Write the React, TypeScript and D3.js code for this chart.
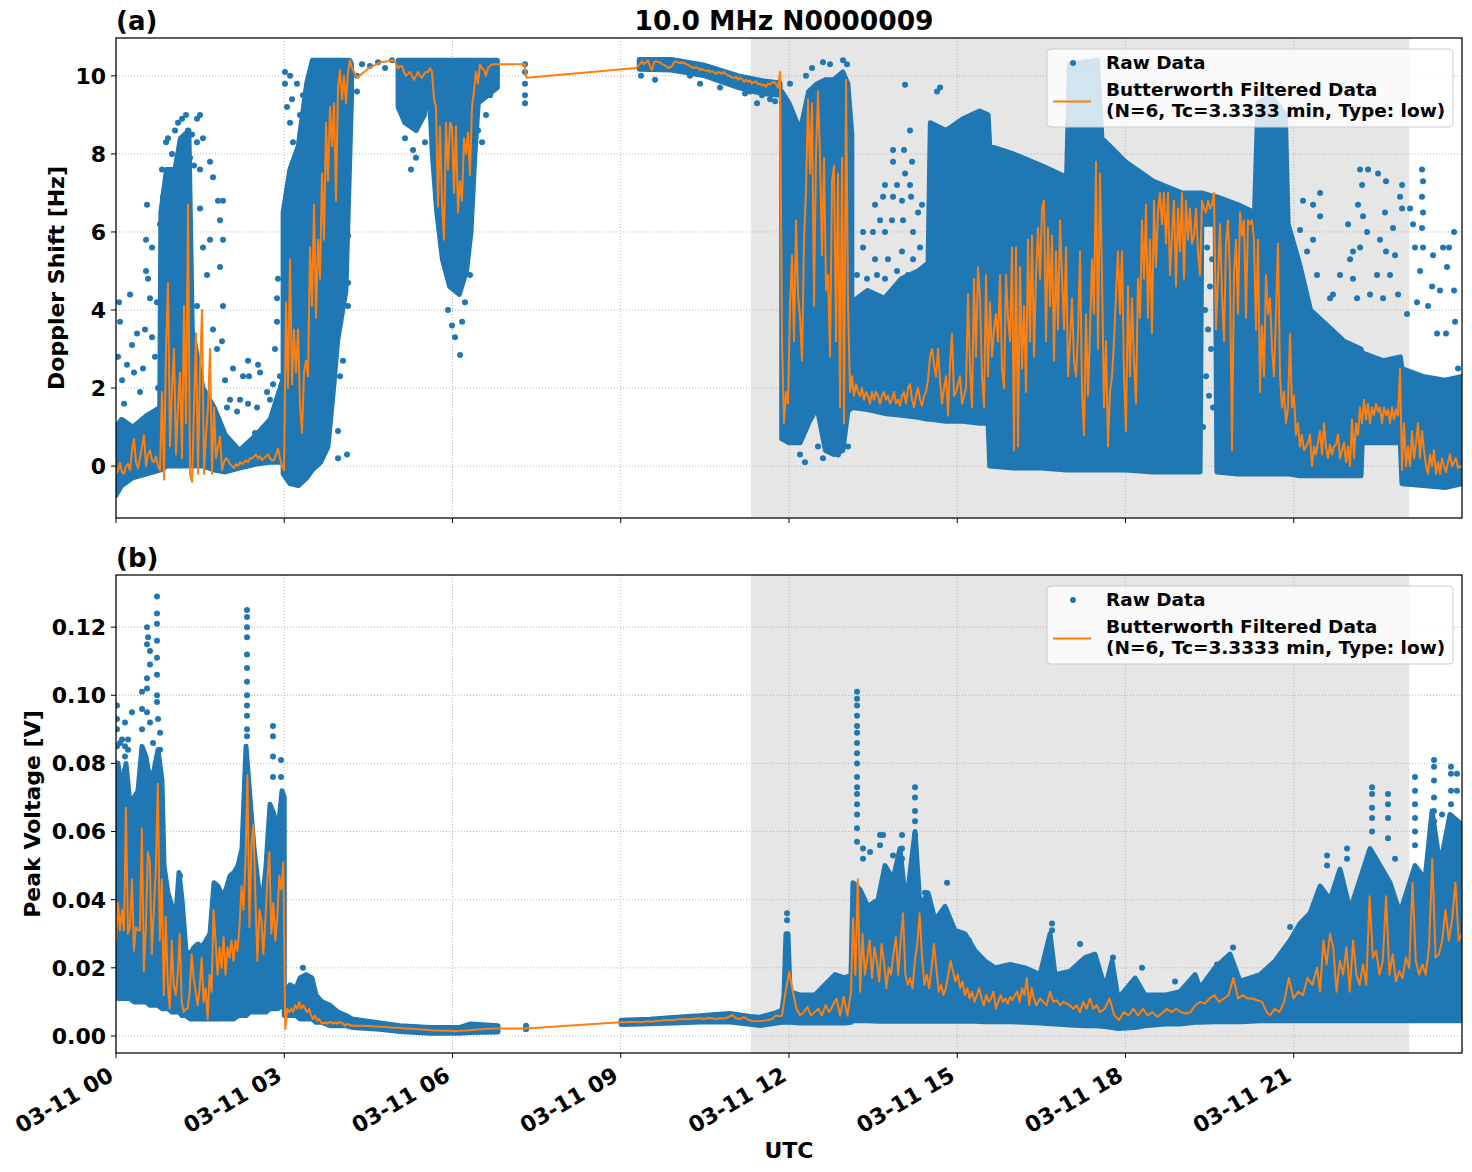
import { useEffect, useRef } from "react"
import * as d3 from "d3"

type BandPoint = [number, number, number]
type Column = [number, number[]]
interface Segment {
  from: number
  to: number
  v: number[]
}

const title = "10.0 MHz N0000009"
const xTickHours = [0, 3, 6, 9, 12, 15, 18, 21]
const xTickLabels = ["03-11 00", "03-11 03", "03-11 06", "03-11 09", "03-11 12", "03-11 15", "03-11 18", "03-11 21"]
const shadedHours: [number, number] = [11.32, 23.06]
const legendLabels = ["Raw Data", "Butterworth Filtered Data", "(N=6, Tc=3.3333 min, Type: low)"]

const dopplerTicks = [0, 2, 4, 6, 8, 10]
const voltageTicks = [0, 0.02, 0.04, 0.06, 0.08, 0.1, 0.12]

// ---- Doppler shift raw data: dense envelopes [hour, low, high] ----
const dopplerBandA: BandPoint[] = [
  [0.0, -0.75, 1.0], [0.1, -0.5, 1.2], [0.3, -0.3, 1.0], [0.55, -0.2, 1.3], [0.78, -0.1, 1.5],
  [0.8, -0.1, 6.5], [0.9, 0.0, 7.6], [1.05, 0.0, 7.6], [1.15, 0.0, 8.4], [1.3, 0.0, 8.6],
  [1.36, 0.0, 3.5], [1.55, 0.0, 2.0], [1.75, -0.1, 1.5], [1.95, -0.15, 0.8], [2.2, -0.05, 0.4],
  [2.5, 0.05, 0.8], [2.75, 0.1, 1.2], [2.97, 0.1, 2.2],
]
const dopplerBandB: BandPoint[] = [
  [2.98, -0.2, 6.5], [3.1, -0.45, 7.6], [3.25, -0.5, 8.2], [3.4, -0.3, 9.8], [3.5, -0.1, 10.4],
  [3.65, 0.1, 10.4], [3.78, 0.5, 10.4], [3.88, 2.0, 10.4], [3.95, 3.2, 10.4], [4.1, 4.5, 10.4],
  [4.17, 8.0, 10.4], [4.2, 9.5, 10.3],
]
const dopplerBandC: BandPoint[] = [
  [5.03, 9.2, 10.4], [5.15, 8.8, 10.4], [5.35, 8.6, 10.4], [5.5, 9.0, 10.4], [5.58, 9.8, 10.4],
  [5.64, 8.0, 10.4], [5.72, 6.5, 10.4], [5.82, 5.3, 10.4], [5.95, 4.6, 10.4], [6.12, 4.4, 10.4],
  [6.25, 5.0, 10.4], [6.33, 6.0, 10.4], [6.4, 8.0, 10.4], [6.46, 9.3, 10.4], [6.8, 9.7, 10.4],
]
const dopplerBandD: BandPoint[] = [
  [9.33, 10.17, 10.42], [9.9, 10.15, 10.42], [10.5, 10.0, 10.27], [11.1, 9.7, 10.0], [11.5, 9.55, 9.88], [11.84, 9.5, 9.82],
]
const dopplerBandE: BandPoint[] = [
  [11.87, 0.7, 9.6], [12.0, 0.6, 9.3], [12.2, 0.6, 8.6], [12.35, 1.1, 9.6], [12.5, 1.5, 9.8],
  [12.65, 0.4, 9.9], [12.8, 0.3, 9.9], [12.96, 0.4, 10.1], [13.05, 1.4, 9.8], [13.12, 1.5, 8.5],
]
const dopplerBandF: BandPoint[] = [
  [13.12, 1.5, 4.2], [13.4, 1.45, 4.5], [13.7, 1.35, 4.3], [14.0, 1.3, 4.8], [14.3, 1.25, 5.0],
  [14.48, 1.2, 5.2], [14.52, 1.2, 8.8], [14.8, 1.15, 8.6], [15.1, 1.15, 8.9], [15.4, 1.1, 9.1],
  [15.55, 1.1, 9.0], [15.58, 0.0, 8.2], [16.0, -0.05, 8.0], [16.5, -0.05, 7.7], [16.95, -0.1, 7.4],
  [17.0, -0.1, 10.3], [17.5, -0.1, 10.4], [17.58, -0.1, 8.4], [18.0, -0.1, 7.8], [18.5, -0.15, 7.3],
  [19.0, -0.15, 7.0], [19.33, -0.15, 7.0], [19.36, 6.2, 7.0], [19.6, 6.2, 6.9], [19.63, -0.15, 6.9],
  [20.0, -0.2, 6.7], [20.3, -0.2, 6.5], [20.36, -0.2, 9.3], [20.6, -0.2, 9.5], [20.85, -0.2, 9.0],
  [20.9, -0.2, 6.2], [21.1, -0.25, 5.2], [21.3, -0.25, 4.0], [21.6, -0.25, 3.6], [21.9, -0.25, 3.2],
  [22.2, -0.25, 3.0], [22.22, 0.6, 2.9], [22.6, 0.6, 2.7], [22.9, 0.6, 2.8], [22.93, -0.45, 2.5],
  [23.3, -0.5, 2.3], [23.7, -0.55, 2.2], [24.0, -0.45, 2.3],
]

// ---- Doppler shift raw data: scattered samples [hour, values] ----
const dopplerScatter: Column[] = [
  [0.036, [2.8]], [0.053, [4.2]], [0.071, [3.7]], [0.107, [2.2]], [0.143, [1.6]], [0.196, [2.6]],
  [0.25, [4.4]], [0.285, [3.1]], [0.321, [2.4]], [0.374, [3.4]], [0.428, [1.9]], [0.481, [2.5]],
  [0.517, [3.5]], [0.535, [5.8, 5.0]], [0.553, [6.7]], [0.571, [4.8]], [0.606, [4.3]], [0.642, [3.3, 5.6]],
  [0.695, [2.8]], [0.731, [4.2]], [0.749, [2.0]], [0.785, [6.2]], [0.82, [7.6]], [0.838, [6.9]],
  [0.892, [8.3]], [0.927, [8.4]], [0.999, [8.0]], [1.052, [8.6]], [1.106, [8.8]], [1.177, [8.9]],
  [1.248, [9.0]], [1.284, [8.6]], [1.319, [7.9]], [1.355, [8.5]], [1.391, [7.7]], [1.444, [8.9, 8.3, 4.1]],
  [1.498, [9.0, 7.6, 6.6]], [1.551, [8.4, 5.6]], [1.623, [4.9]], [1.676, [7.8, 5.8]], [1.73, [7.4, 3.5]],
  [1.801, [3.0]], [1.819, [6.8]], [1.854, [6.3, 5.1]], [1.89, [3.2]], [1.908, [6.8, 5.8, 4.1]],
  [1.944, [2.2]], [1.979, [1.5]], [2.033, [1.7]], [2.086, [2.5]], [2.158, [1.4]], [2.211, [1.7]],
  [2.265, [2.3]], [2.354, [2.7, 1.6]], [2.372, [2.3]], [2.479, [0.85]], [2.514, [1.5]], [2.532, [2.6]],
  [2.568, [2.4]], [2.621, [0.9]], [2.693, [1.9]], [2.71, [1.1]], [2.746, [1.7]], [2.8, [2.1]],
  [2.835, [3.0]], [2.871, [4.3, 3.7]], [2.889, [4.8]], [2.924, [2.3]], [2.96, [1.5]],
  [3.013, [10.1, 9.8]], [3.049, [9.2]], [3.103, [8.8, 10.0]], [3.138, [9.4]], [3.156, [8.3]],
  [3.227, [9.8]], [3.245, [7.6]], [3.281, [9.0]], [3.334, [9.5]], [3.406, [9.1]], [3.424, [8.4]],
  [3.958, [0.9, 0.2]], [3.994, [2.3]], [4.048, [2.7]], [4.119, [0.3, 6.7]], [4.137, [4.7, 4.1, 5.9]],
  [4.297, [9.6, 10.0]], [4.386, [10.3]], [4.529, [10.25]], [4.672, [10.35]], [4.797, [10.2]], [4.921, [10.4]],
  [5.153, [8.4]], [5.26, [7.6]], [5.296, [8.1]], [5.349, [7.9]], [5.51, [8.3]],
  [5.92, [4.0]], [5.991, [3.6]], [6.045, [3.3]], [6.134, [2.85]], [6.17, [3.7]], [6.223, [4.2]], [6.312, [4.9]],
  [6.455, [8.6]], [6.526, [8.3]], [6.597, [9.0]], [6.669, [9.5]],
  [7.293, [10.3, 10.1, 9.8, 9.5, 9.3]],
  [9.361, [10.0]], [9.611, [9.9]], [10.235, [10.0]], [10.413, [9.8]], [10.77, [9.7]], [10.948, [9.8]],
  [11.216, [9.55]], [11.305, [9.6]], [11.43, [9.3]], [11.519, [9.5]], [11.662, [9.4]], [11.751, [9.35]],
  [12.018, [9.8]], [12.196, [0.3]], [12.285, [0.1]], [12.303, [10.0]], [12.41, [10.2]], [12.517, [0.5]],
  [12.606, [0.2, 10.35]], [12.731, [10.3]], [12.874, [0.3]], [12.963, [10.4]], [13.035, [10.3]], [13.052, [0.5]],
  [13.213, [4.9]], [13.32, [6.0, 5.6]], [13.391, [4.8]], [13.498, [6.0]], [13.534, [6.7, 5.3]], [13.569, [4.9]],
  [13.623, [6.3]], [13.677, [6.9]], [13.712, [7.2, 6.0, 4.8]], [13.765, [5.3]], [13.837, [6.3]],
  [13.855, [8.1, 7.8, 6.9]], [13.926, [7.2, 5.0]], [14.015, [6.8, 5.5]], [14.033, [6.3]], [14.051, [8.1]],
  [14.069, [9.77, 7.5]], [14.122, [4.9]], [14.158, [8.6, 7.2]], [14.176, [6.9]], [14.194, [7.8]],
  [14.212, [6.0, 5.3]], [14.301, [6.5, 4.85]], [14.336, [5.6]], [14.372, [6.7]], [14.639, [9.6]], [14.693, [9.7]],
  [19.382, [1.0]], [19.418, [4.0]], [19.436, [2.3]], [19.454, [5.6]], [19.472, [3.5]], [19.489, [1.8]],
  [19.507, [4.6]], [19.525, [3.0]], [19.543, [5.3]], [19.561, [1.5]],
  [20.809, [7.0]], [20.88, [6.4]], [21.112, [6.05]], [21.165, [6.8]], [21.237, [5.5]], [21.344, [6.7, 5.8]],
  [21.415, [4.9]], [21.469, [7.0, 6.4]], [21.647, [4.3]], [21.7, [4.4]], [21.825, [4.9]], [21.968, [6.2]],
  [22.004, [5.3]], [22.057, [4.8, 5.5]], [22.128, [4.3]], [22.146, [6.7]], [22.182, [7.6, 5.6]], [22.218, [7.2]],
  [22.235, [6.4]], [22.307, [6.0]], [22.325, [7.6]], [22.36, [4.4]], [22.485, [4.9]], [22.503, [7.5]],
  [22.538, [5.8]], [22.592, [4.3]], [22.627, [6.5]], [22.645, [7.3, 5.5]], [22.717, [4.9]], [22.77, [6.1]],
  [22.806, [5.4]], [22.86, [4.4]], [22.895, [6.9]], [22.931, [7.2, 6.6]], [23.02, [3.9]], [23.074, [6.6]],
  [23.127, [6.2]], [23.162, [5.6]], [23.198, [4.2]], [23.252, [5.0]], [23.287, [7.6, 6.9, 6.1]],
  [23.305, [7.3, 6.5, 5.6]], [23.394, [4.1]], [23.466, [4.6]], [23.484, [5.4]], [23.555, [3.4]], [23.608, [4.5]],
  [23.662, [5.6]], [23.715, [3.4]], [23.733, [5.1]], [23.769, [5.6]], [23.858, [6.0, 4.5]], [23.876, [3.7]],
  [23.929, [2.5]],
]

// ---- Doppler shift Butterworth filtered series (uniformly sampled segments) ----
const dopplerFiltered: Segment[] = [
  { from: 0, to: 2.96, v: [
    -0.2, -0.1, 0.08, -0.15, -0.2, 0.0, 0.05, -0.1, 0.4, 0.7, 0.1, -0.05, 0.2, 0.5, 0.8, 0.0, 0.3, 0.4, 0.15, 0.1,
    0.25, 0.0, -0.1, 1.9, -0.35, 3.0, 4.7, 0.5, 2.0, 3.0, 0.3, 1.5, 2.4, 0.2, 4.1, 1.1, 6.7, -0.2, -0.4, 1.5,
    3.4, -0.2, 2.5, 4.0, -0.2, 0.8, 1.5, 3.0, -0.2, 1.5, 0.2, 0.5, 0.75, -0.1, 0.1, 0.2, 0.15, 0.05, 0.0, -0.05,
    0.05, 0.0, 0.1, 0.05, 0.1, 0.15, 0.1, 0.2, 0.2, 0.25, 0.3, 0.2, 0.25, 0.15, 0.2, 0.25, 0.3, 0.2, 0.15, 0.15,
    0.3, 0.45, 0.2, 0.0,
  ] },
  { from: 2.996, to: 4.208, v: [
    -0.1, 4.2, 2.0, 5.3, 2.1, 3.5, 2.4, 3.5, 1.55, 0.85, 2.4, 2.7, 2.3, 5.6, 4.1, 6.7, 3.8, 5.8, 4.8, 7.5,
    5.8, 8.8, 7.3, 9.2, 8.2, 9.3, 6.8, 9.7, 10.15, 9.4, 10.0, 9.3, 10.1, 10.4, 10.2,
  ] },
  { from: 4.3, to: 4.72, v: [9.95, 10.2, 10.35] },
  { from: 4.957, to: 6.811, v: [
    10.4, 10.3, 10.2, 10.25, 10.25, 10.1, 10.0, 10.05, 10.1, 10.0, 9.9, 10.0, 10.1, 10.0, 9.95, 10.05, 10.1, 10.1, 10.2, 10.1,
    9.4, 9.2, 6.65, 8.7, 6.8, 5.8, 8.8, 7.6, 8.8, 8.7, 7.0, 8.7, 6.5, 7.3, 6.8, 8.4, 8.0, 8.55, 7.45, 9.2,
    9.6, 10.1, 9.8, 10.3, 10.2, 10.15, 10.0, 10.2, 10.25, 10.3, 10.3, 10.3, 10.3,
  ] },
  { from: 7.29, to: 7.33, v: [10.3, 9.97, 9.95] },
  { from: 9.272, to: 11.875, v: [
    10.2, 10.25, 10.3, 10.37, 10.3, 10.35, 10.4, 10.25, 10.15, 10.35, 10.38, 10.35, 10.35, 10.3, 10.28, 10.25, 10.2, 10.22, 10.25, 10.35,
    10.37, 10.35, 10.33, 10.35, 10.33, 10.3, 10.28, 10.25, 10.22, 10.2, 10.22, 10.2, 10.15, 10.18, 10.15, 10.12, 10.15, 10.1, 10.12, 10.1,
    10.05, 10.1, 10.08, 10.05, 10.1, 10.05, 10.0, 10.0, 9.95, 9.95, 9.98, 9.9, 9.95, 9.92, 9.85, 9.9, 9.85, 9.88, 9.8, 9.85,
    9.85, 9.78, 9.8, 9.75, 9.78, 9.72, 9.8, 9.78, 9.82, 9.85, 9.78, 9.7, 10.1, 3.2,
  ] },
  { from: 11.911, to: 13.124, v: [
    1.1, 1.9, 1.6, 4.1, 5.4, 3.2, 6.3, 4.4, 3.8, 2.7, 5.8, 7.1, 9.4, 7.5, 9.3, 4.1, 8.0, 9.6, 7.9, 5.4,
    7.9, 4.5, 4.9, 2.8, 7.3, 7.7, 3.2, 7.5, 1.5, 7.9, 1.1, 9.9, 4.1, 1.9, 2.3,
  ] },
  { from: 13.159, to: 17.51, v: [
    1.8, 2.1, 1.9, 1.8, 2.0, 1.7, 1.9, 1.8, 1.6, 1.9, 1.7, 1.9, 1.8, 1.6, 1.8, 1.9, 1.7, 1.8, 1.6, 1.7,
    1.9, 1.6, 1.7, 1.55, 1.8, 1.9, 1.6, 2.0, 2.1, 1.7, 1.5, 1.8, 2.0, 1.7, 1.55, 1.8, 1.9, 2.2, 2.8, 3.0,
    2.6, 2.3, 3.0, 2.2, 1.6, 2.0, 2.3, 1.3, 2.6, 3.4, 1.8, 1.9, 2.1, 2.3, 1.6, 1.8, 2.0, 4.4, 2.5, 1.5,
    4.8, 2.8, 5.1, 4.3, 2.3, 1.5, 4.9, 2.3, 4.2, 2.8, 3.5, 3.9, 3.2, 4.9, 2.5, 2.0, 4.9, 3.8, 3.2, 5.6,
    0.4, 5.6, 0.5, 5.1, 2.5, 4.1, 1.9, 5.8, 3.2, 5.9, 2.8, 4.9, 6.1, 4.8, 6.6, 6.8, 3.2, 6.1, 4.1, 5.9,
    2.7, 5.5, 3.5, 6.3, 4.9, 3.5, 5.6, 2.3, 3.2, 4.3, 2.7, 2.3, 3.4, 5.5, 1.9, 0.8, 3.9, 1.8, 3.5, 5.3,
    3.9, 7.8, 3.0,
  ] },
  { from: 17.545, to: 24, v: [
    7.5, 4.9, 1.5, 3.2, 0.5, 1.9, 2.3, 3.2, 4.4, 5.5, 3.9, 5.5, 2.3, 0.9, 4.6, 2.3, 4.3, 2.7, 1.6, 4.8,
    3.8, 6.3, 4.8, 6.7, 3.8, 5.8, 3.4, 6.8, 5.1, 6.5, 7.0, 6.2, 7.0, 5.7, 7.0, 4.9, 5.9, 6.8, 4.6, 6.6,
    5.5, 7.0, 4.8, 6.8, 5.8, 6.6, 5.7, 5.9, 6.6, 5.5, 4.9, 6.8, 6.6, 6.5, 6.8, 6.6, 6.7, 7.0, 3.5, 4.8,
    6.2, 4.4, 3.2, 5.7, 6.3, 4.9, 0.4, 4.9, 5.8, 3.9, 6.5, 5.9, 6.3, 3.8, 6.3, 6.2, 6.3, 5.8, 3.5, 5.8,
    1.9, 3.6, 2.3, 4.9, 3.9, 4.3, 3.0, 2.3, 3.9, 5.7, 2.3, 1.5, 1.9, 1.1, 1.5, 3.4, 1.5, 1.8, 0.8, 1.1,
    0.5, 0.8, 0.4, 0.5, 0.6, 0.8, 0.0, 0.5, 0.3, 0.6, 0.9, 0.3, 1.1, 0.5, 0.2, 0.55, 0.3, 0.5, 0.55, 0.8,
    0.2, 0.4, 0.6, 0.1, 0.5, 0.0, 1.2, 0.2, 1.1, 0.8, 1.5, 1.1, 1.7, 1.2, 1.6, 1.1, 1.5, 1.3, 1.6, 1.4,
    1.5, 1.1, 1.5, 1.3, 1.45, 1.1, 1.5, 1.2, 1.45, 1.3, 2.5, -0.1, 1.1, 0.0, 0.5, 0.0, 0.9, 0.2, 0.6, 1.1,
    0.2, 0.9, 0.4, 0.0, -0.2, 0.3, 0.0, 0.4, -0.2, 0.1, -0.2, 0.2, 0.0, -0.15, 0.1, 0.3, 0.0, 0.1, 0.2, -0.05,
    0.0, -0.05,
  ] },
]

// ---- Peak voltage raw data: dense envelopes [hour, low, high] ----
const voltageBandA: BandPoint[] = [
  [0, 0.012, 0.065], [0.036, 0.011, 0.08], [0.107, 0.011, 0.072], [0.178, 0.011, 0.08], [0.25, 0.011, 0.068],
  [0.321, 0.01, 0.07], [0.392, 0.01, 0.072], [0.464, 0.01, 0.085], [0.535, 0.01, 0.082], [0.606, 0.009, 0.075],
  [0.678, 0.009, 0.078], [0.749, 0.009, 0.084], [0.82, 0.008, 0.075], [0.856, 0.008, 0.05], [0.927, 0.008, 0.042],
  [0.999, 0.007, 0.038], [1.07, 0.007, 0.036], [1.123, 0.007, 0.048], [1.177, 0.006, 0.04], [1.248, 0.006, 0.025],
  [1.319, 0.005, 0.024], [1.391, 0.005, 0.026], [1.462, 0.005, 0.027], [1.533, 0.005, 0.026], [1.605, 0.005, 0.028],
  [1.676, 0.005, 0.03], [1.747, 0.005, 0.045], [1.819, 0.005, 0.044], [1.89, 0.005, 0.041], [1.961, 0.005, 0.043],
  [2.033, 0.005, 0.047], [2.104, 0.005, 0.048], [2.175, 0.006, 0.05], [2.247, 0.006, 0.055], [2.318, 0.006, 0.085],
  [2.389, 0.007, 0.07], [2.461, 0.007, 0.055], [2.532, 0.007, 0.045], [2.603, 0.007, 0.038], [2.675, 0.007, 0.05],
  [2.746, 0.008, 0.068], [2.817, 0.008, 0.065], [2.889, 0.008, 0.06], [2.96, 0.009, 0.072], [3.0, 0.008, 0.07],
]
const voltageBandB: BandPoint[] = [
  [3.0, 0.006, 0.013], [3.103, 0.006, 0.015], [3.21, 0.006, 0.014], [3.281, 0.005, 0.017], [3.388, 0.005, 0.018],
  [3.495, 0.005, 0.017], [3.566, 0.004, 0.012], [3.673, 0.004, 0.01], [3.816, 0.003, 0.009], [3.958, 0.003, 0.007],
  [4.101, 0.003, 0.006], [4.208, 0.0025, 0.005], [4.707, 0.002, 0.0038], [5.064, 0.0013, 0.003], [5.599, 0.0008, 0.0025],
  [6.134, 0.0008, 0.0025], [6.312, 0.001, 0.0035], [6.811, 0.0012, 0.003],
]
const voltageBandC: BandPoint[] = [
  [9.005, 0.0034, 0.0046], [9.522, 0.0036, 0.0049], [10.057, 0.0039, 0.0056], [10.413, 0.0041, 0.0059],
  [10.948, 0.0041, 0.0066], [11.305, 0.0034, 0.0057], [11.483, 0.0031, 0.0055], [11.751, 0.0037, 0.0067], [11.875, 0.004, 0.0075],
]
const voltageBandD: BandPoint[] = [
  [11.875, 0.004, 0.0075], [11.911, 0.004, 0.012], [11.946, 0.004, 0.03], [11.982, 0.004, 0.03], [12.018, 0.004, 0.013],
  [12.196, 0.0038, 0.012], [12.464, 0.0038, 0.012], [12.642, 0.0038, 0.015], [12.82, 0.0038, 0.018], [12.999, 0.0038, 0.017],
  [13.106, 0.004, 0.018], [13.141, 0.0045, 0.045], [13.266, 0.0045, 0.043], [13.409, 0.0045, 0.038], [13.587, 0.0043, 0.04],
  [13.712, 0.0043, 0.05], [13.855, 0.0043, 0.046], [13.979, 0.0043, 0.055], [14.086, 0.0043, 0.038], [14.247, 0.0043, 0.06],
  [14.336, 0.0043, 0.038], [14.479, 0.0043, 0.042], [14.604, 0.0043, 0.034], [14.782, 0.0043, 0.038], [14.96, 0.0043, 0.031],
  [15.139, 0.0043, 0.03], [15.317, 0.0043, 0.025], [15.495, 0.0042, 0.022], [15.673, 0.0042, 0.02], [15.941, 0.0042, 0.021],
  [16.208, 0.004, 0.02], [16.476, 0.0038, 0.018], [16.654, 0.0036, 0.03], [16.743, 0.0035, 0.018], [17.011, 0.0032, 0.019],
  [17.278, 0.003, 0.023], [17.456, 0.003, 0.024], [17.635, 0.0028, 0.014], [17.76, 0.0025, 0.022], [17.867, 0.0022, 0.011],
  [18.17, 0.0025, 0.017], [18.348, 0.003, 0.012], [18.705, 0.0035, 0.012], [18.972, 0.0035, 0.013], [19.24, 0.004, 0.018],
  [19.329, 0.004, 0.014], [19.596, 0.0042, 0.02], [19.864, 0.0042, 0.024], [20.042, 0.0042, 0.016], [20.399, 0.0045, 0.018],
  [20.666, 0.0045, 0.022], [20.934, 0.0045, 0.028], [21.112, 0.0045, 0.033], [21.29, 0.0045, 0.036], [21.469, 0.0045, 0.044],
  [21.647, 0.0045, 0.04], [21.825, 0.0045, 0.049], [22.004, 0.0045, 0.037], [22.36, 0.0045, 0.055], [22.538, 0.0045, 0.05],
  [22.717, 0.0045, 0.045], [22.895, 0.0045, 0.036], [23.162, 0.0045, 0.05], [23.341, 0.0045, 0.046], [23.466, 0.0045, 0.066],
  [23.608, 0.0045, 0.05], [23.786, 0.0045, 0.065], [24.0, 0.0045, 0.062],
]

// ---- Peak voltage raw data: scattered samples [hour, values] ----
const voltageScatter: Column[] = [
  [0.018, [0.097, 0.093, 0.09, 0.085, 0.08]], [0.071, [0.086]], [0.107, [0.087]], [0.16, [0.092, 0.085, 0.082, 0.078]],
  [0.214, [0.087, 0.084]], [0.285, [0.095]], [0.464, [0.101, 0.096, 0.09]], [0.553, [0.12, 0.115, 0.105, 0.102, 0.095]],
  [0.571, [0.117]], [0.606, [0.113, 0.109, 0.092]], [0.66, [0.086]],
  [0.731, [0.129, 0.124, 0.121, 0.116, 0.111, 0.106, 0.1, 0.098]], [0.749, [0.093]], [0.785, [0.089, 0.084]],
  [1.141, [0.047, 0.041]],
  [2.336, [0.125, 0.123, 0.12, 0.117, 0.112, 0.108, 0.104, 0.1, 0.097, 0.094, 0.09, 0.088]],
  [2.799, [0.091, 0.088, 0.082, 0.076]], [2.942, [0.081, 0.076]], [3.334, [0.02]], [7.311, [0.002, 0.0025, 0.003]],
  [11.965, [0.036, 0.034]],
  [13.213, [0.101, 0.099, 0.097, 0.094, 0.091, 0.089, 0.086, 0.083, 0.08, 0.076, 0.073, 0.071, 0.068, 0.065, 0.061, 0.057]],
  [13.32, [0.055, 0.052]], [13.445, [0.054]], [13.623, [0.059, 0.056]], [13.677, [0.059]], [13.855, [0.053]],
  [14.015, [0.059, 0.055, 0.052]], [14.247, [0.073, 0.07, 0.066, 0.063, 0.059, 0.055, 0.052, 0.048, 0.045, 0.042]],
  [14.425, [0.042]], [14.818, [0.045]], [14.924, [0.031]], [15.21, [0.028]], [16.69, [0.033, 0.031]], [17.189, [0.027]],
  [17.777, [0.023]], [18.294, [0.02]], [18.883, [0.016]], [19.632, [0.021]], [19.918, [0.026]], [20.934, [0.032]],
  [21.594, [0.053, 0.05]], [21.95, [0.055, 0.052]], [22.396, [0.073, 0.071, 0.067, 0.064, 0.06]],
  [22.681, [0.071, 0.068, 0.064, 0.058]], [22.806, [0.052]], [23.162, [0.076, 0.072, 0.068, 0.064, 0.06, 0.056]],
  [23.501, [0.081, 0.079, 0.075, 0.07, 0.066, 0.063]], [23.644, [0.065]], [23.804, [0.079, 0.077, 0.072, 0.068]],
  [23.911, [0.077, 0.072]],
]

// ---- Peak voltage Butterworth filtered series ----
const voltageFiltered: Segment[] = [
  { from: 0, to: 4.19, v: [
    0.0276, 0.039, 0.031, 0.037, 0.031, 0.067, 0.03, 0.032, 0.046, 0.025, 0.032, 0.031, 0.031, 0.061, 0.019, 0.032, 0.054, 0.051, 0.024, 0.037,
    0.049, 0.074, 0.028, 0.046, 0.012, 0.035, 0.015, 0.008, 0.028, 0.015, 0.012, 0.018, 0.03, 0.01, 0.007, 0.008, 0.008, 0.013, 0.024, 0.017,
    0.013, 0.009, 0.014, 0.023, 0.01, 0.014, 0.005, 0.018, 0.013, 0.037, 0.028, 0.018, 0.026, 0.02, 0.029, 0.018, 0.026, 0.023, 0.028, 0.022,
    0.028, 0.025, 0.032, 0.044, 0.037, 0.051, 0.0765, 0.032, 0.056, 0.062, 0.041, 0.022, 0.037, 0.034, 0.024, 0.034, 0.046, 0.054, 0.03, 0.039,
    0.028, 0.035, 0.047, 0.043, 0.051, 0.002, 0.008, 0.007, 0.008, 0.007, 0.009, 0.008, 0.01, 0.008, 0.009, 0.008, 0.007, 0.008, 0.006, 0.005,
    0.006, 0.0045, 0.005, 0.004, 0.0036, 0.004, 0.0036, 0.004, 0.004, 0.0036, 0.004, 0.0036, 0.004, 0.004, 0.0036, 0.003, 0.0036, 0.0033, 0.003,
  ] },
  { from: 4.244, to: 6.811, v: [
    0.0031, 0.003, 0.003, 0.0029, 0.0029, 0.0028, 0.0027, 0.0027, 0.0026, 0.0025, 0.0024, 0.0024, 0.0023, 0.0022, 0.0021, 0.0021, 0.002, 0.0019, 0.0018, 0.0017,
    0.0016, 0.0016, 0.0015, 0.0015, 0.0015, 0.0014, 0.0015, 0.0015, 0.0016, 0.0017, 0.0018, 0.0019, 0.002, 0.0021, 0.0021, 0.0022, 0.0022,
  ] },
  { from: 7.31, to: 7.31, v: [0.0022] },
  { from: 8.987, to: 11.84, v: [
    0.004, 0.0041, 0.004, 0.0042, 0.0041, 0.004, 0.0042, 0.0043, 0.0042, 0.0044, 0.0045, 0.0046, 0.0047, 0.0046, 0.0048, 0.0049, 0.005, 0.0049, 0.005, 0.0051,
    0.0052, 0.005, 0.0053, 0.0052, 0.005, 0.0052, 0.0051, 0.0054, 0.0062, 0.0052, 0.005, 0.0055, 0.0048, 0.0044, 0.0043, 0.0044, 0.0045, 0.0047, 0.005, 0.006,
    0.0058,
  ] },
  { from: 11.875, to: 13.106, v: [
    0.006, 0.013, 0.0188, 0.013, 0.008, 0.006, 0.007, 0.0085, 0.006, 0.007, 0.008, 0.006, 0.009, 0.007, 0.009, 0.011, 0.006, 0.0115, 0.006, 0.013,
  ] },
  { from: 13.141, to: 16.41, v: [
    0.0345, 0.018, 0.046, 0.013, 0.03, 0.018, 0.023, 0.028, 0.017, 0.026, 0.022, 0.016, 0.027, 0.022, 0.014, 0.02, 0.018, 0.024, 0.029, 0.018,
    0.028, 0.036, 0.018, 0.015, 0.017, 0.014, 0.022, 0.027, 0.036, 0.023, 0.015, 0.018, 0.014, 0.02, 0.027, 0.02, 0.013, 0.015, 0.012, 0.014,
    0.018, 0.022, 0.019, 0.016, 0.018, 0.014, 0.016, 0.012, 0.014, 0.011, 0.013, 0.01, 0.012, 0.014, 0.011, 0.009, 0.012, 0.01, 0.011, 0.013,
    0.008, 0.01, 0.012, 0.01, 0.011, 0.0095, 0.0115, 0.0105, 0.012, 0.013, 0.01, 0.014, 0.012, 0.017, 0.009, 0.014, 0.011, 0.009,
  ] },
  { from: 16.476, to: 17.545, v: [
    0.011, 0.01, 0.009, 0.013, 0.01, 0.0105, 0.009, 0.01, 0.0095, 0.009, 0.008, 0.009, 0.007, 0.01, 0.008, 0.011, 0.008, 0.009, 0.007,
  ] },
  { from: 17.545, to: 20.518, v: [
    0.007, 0.008, 0.011, 0.006, 0.0047, 0.007, 0.006, 0.008, 0.006, 0.008, 0.006, 0.007, 0.0056, 0.0066, 0.008, 0.007, 0.008, 0.007, 0.0066, 0.007,
    0.009, 0.01, 0.0095, 0.011, 0.012, 0.01, 0.011, 0.012, 0.017, 0.011, 0.012, 0.011, 0.011, 0.0105, 0.01, 0.007,
  ] },
  { from: 20.577, to: 21.415, v: [0.006, 0.008, 0.007, 0.01, 0.017, 0.011, 0.013, 0.012, 0.017, 0.015, 0.02] },
  { from: 21.469, to: 24, v: [
    0.013, 0.028, 0.021, 0.03, 0.026, 0.013, 0.022, 0.018, 0.026, 0.013, 0.028, 0.018, 0.015, 0.021, 0.015, 0.041, 0.023, 0.025, 0.018, 0.022,
    0.041, 0.018, 0.024, 0.016, 0.019, 0.017, 0.023, 0.02, 0.045, 0.022, 0.018, 0.021, 0.018, 0.026, 0.052, 0.023, 0.024, 0.028, 0.037, 0.028,
    0.034, 0.045, 0.028, 0.03,
  ] },
]

const BLUE = "#1f77b4"
const ORANGE = "#ff7f0e"
const FONT = "'DejaVu Sans', sans-serif"

function segmentPoints(segments: Segment[]): [number, number][] {
  return segments.flatMap((s) =>
    s.v.map((v, i) => [s.v.length > 1 ? s.from + ((s.to - s.from) * i) / (s.v.length - 1) : s.from, v] as [number, number])
  )
}

export default function App() {
  const svgRef = useRef<SVGSVGElement>(null)

  useEffect(() => {
    if (!svgRef.current) return
    document.body.style.margin = "0"
    const svg = d3.select(svgRef.current)
    svg.selectAll("*").remove()

    const left = 116
    const right = 1462
    const x = d3.scaleLinear().domain([0, 24]).range([left, right])

    const panels = [
      {
        top: 38, bottom: 518, domain: [-1.33, 10.97], ticks: dopplerTicks, fmt: d3.format("d"),
        bands: [dopplerBandA, dopplerBandB, dopplerBandC, dopplerBandD, dopplerBandE, dopplerBandF],
        scatter: dopplerScatter, filtered: dopplerFiltered, label: "Doppler Shift [Hz]", labelX: 64, tag: "(a)", xLabels: false,
      },
      {
        top: 575, bottom: 1053, domain: [-0.005, 0.1353], ticks: voltageTicks, fmt: d3.format(".2f"),
        bands: [voltageBandA, voltageBandB, voltageBandC, voltageBandD],
        scatter: voltageScatter, filtered: voltageFiltered, label: "Peak Voltage [V]", labelX: 40, tag: "(b)", xLabels: true,
      },
    ]

    const defs = svg.append("defs")

    panels.forEach((p, pi) => {
      const y = d3.scaleLinear().domain(p.domain).range([p.bottom, p.top])
      const g = svg.append("g")

      // shaded span
      g.append("rect")
        .attr("x", x(shadedHours[0]))
        .attr("y", p.top)
        .attr("width", x(shadedHours[1]) - x(shadedHours[0]))
        .attr("height", p.bottom - p.top)
        .attr("fill", "#e6e6e6")

      // grid
      g.selectAll("line.gx")
        .data(xTickHours)
        .join("line")
        .attr("x1", (d) => x(d))
        .attr("x2", (d) => x(d))
        .attr("y1", p.top)
        .attr("y2", p.bottom)
        .attr("stroke", "#b0b0b0")
        .attr("stroke-width", 0.9)
        .attr("stroke-dasharray", "1,2")
      g.selectAll("line.gy")
        .data(p.ticks)
        .join("line")
        .attr("x1", left)
        .attr("x2", right)
        .attr("y1", (d) => y(d))
        .attr("y2", (d) => y(d))
        .attr("stroke", "#b0b0b0")
        .attr("stroke-width", 0.9)
        .attr("stroke-dasharray", "1,2")

      const clipId = `clip-${pi}`
      defs.append("clipPath").attr("id", clipId)
        .append("rect").attr("x", left).attr("y", p.top).attr("width", right - left).attr("height", p.bottom - p.top)
      const dg = g.append("g").attr("clip-path", `url(#${clipId})`)

      // raw data dense envelopes
      const area = d3.area<BandPoint>()
        .x((d) => x(d[0]))
        .y0((d) => y(d[1]))
        .y1((d) => y(d[2]))
      dg.selectAll("path.band")
        .data(p.bands)
        .join("path")
        .attr("d", (d) => area(d))
        .attr("fill", BLUE)
        .attr("stroke", BLUE)
        .attr("stroke-width", 5)
        .attr("stroke-linejoin", "round")

      // raw data scattered samples
      const pts = p.scatter.flatMap(([h, vs]) => vs.map((v) => [h, v] as [number, number]))
      dg.selectAll("circle.pt")
        .data(pts)
        .join("circle")
        .attr("cx", (d) => x(d[0]))
        .attr("cy", (d) => y(d[1]))
        .attr("r", 3)
        .attr("fill", BLUE)

      // filtered line
      const line = d3.line<[number, number]>()
        .x((d) => x(d[0]))
        .y((d) => y(d[1]))
      dg.append("path")
        .datum(segmentPoints(p.filtered))
        .attr("d", line)
        .attr("fill", "none")
        .attr("stroke", ORANGE)
        .attr("stroke-width", 2)
        .attr("stroke-linejoin", "round")

      // frame
      g.append("rect")
        .attr("x", left)
        .attr("y", p.top)
        .attr("width", right - left)
        .attr("height", p.bottom - p.top)
        .attr("fill", "none")
        .attr("stroke", "#000")
        .attr("stroke-width", 1.25)

      // y ticks
      g.selectAll("line.ty")
        .data(p.ticks)
        .join("line")
        .attr("x1", left - 5)
        .attr("x2", left)
        .attr("y1", (d) => y(d))
        .attr("y2", (d) => y(d))
        .attr("stroke", "#000")
        .attr("stroke-width", 1)
      g.selectAll("text.ty")
        .data(p.ticks)
        .join("text")
        .attr("x", left - 10)
        .attr("y", (d) => y(d))
        .attr("dy", "0.36em")
        .attr("text-anchor", "end")
        .attr("font-family", FONT)
        .attr("font-weight", "bold")
        .attr("font-size", 22)
        .text((d) => p.fmt(d))

      // x ticks
      g.selectAll("line.tx")
        .data(xTickHours)
        .join("line")
        .attr("x1", (d) => x(d))
        .attr("x2", (d) => x(d))
        .attr("y1", p.bottom)
        .attr("y2", p.bottom + 5)
        .attr("stroke", "#000")
        .attr("stroke-width", 1)
      if (p.xLabels) {
        g.selectAll("text.tx")
          .data(xTickHours)
          .join("text")
          .attr("transform", (d) => `translate(${x(d) - 1},${p.bottom + 26.5}) rotate(-30)`)
          .attr("text-anchor", "end")
          .attr("font-family", FONT)
          .attr("font-weight", "bold")
          .attr("font-size", 22)
          .text((_, i) => xTickLabels[i])
        g.append("text")
          .attr("x", (left + right) / 2)
          .attr("y", 1158)
          .attr("text-anchor", "middle")
          .attr("font-family", FONT)
          .attr("font-weight", "bold")
          .attr("font-size", 22)
          .text("UTC")
      }

      // y label
      g.append("text")
        .attr("transform", `translate(${p.labelX},${(p.top + p.bottom) / 2}) rotate(-90)`)
        .attr("text-anchor", "middle")
        .attr("font-family", FONT)
        .attr("font-weight", "bold")
        .attr("font-size", 22)
        .text(p.label)

      // panel tag
      g.append("text")
        .attr("x", left)
        .attr("y", p.top - 8)
        .attr("font-family", FONT)
        .attr("font-weight", "bold")
        .attr("font-size", 26)
        .text(p.tag)

      // legend
      const lg = g.append("g").attr("transform", `translate(0,${p.top})`)
      lg.append("rect")
        .attr("x", 1047)
        .attr("y", 11)
        .attr("width", 406)
        .attr("height", 78)
        .attr("rx", 4)
        .attr("fill", "#fff")
        .attr("fill-opacity", 0.8)
        .attr("stroke", "#cccccc")
        .attr("stroke-width", 1)
      lg.append("circle").attr("cx", 1073).attr("cy", 25).attr("r", 3).attr("fill", BLUE)
      lg.append("line")
        .attr("x1", 1053).attr("x2", 1091).attr("y1", 63.5).attr("y2", 63.5)
        .attr("stroke", ORANGE).attr("stroke-width", 2)
      const legendY = [31, 58, 79]
      legendLabels.forEach((t, i) => {
        lg.append("text")
          .attr("x", 1106)
          .attr("y", legendY[i])
          .attr("font-family", FONT)
          .attr("font-weight", "bold")
          .attr("font-size", 18.5)
          .text(t)
      })
    })

    svg.append("text")
      .attr("x", 784)
      .attr("y", 30)
      .attr("text-anchor", "middle")
      .attr("font-family", FONT)
      .attr("font-weight", "bold")
      .attr("font-size", 26.5)
      .text(title)
  }, [])

  return <svg ref={svgRef} width={1472} height={1172} style={{ display: "block", background: "#fff" }} />
}
